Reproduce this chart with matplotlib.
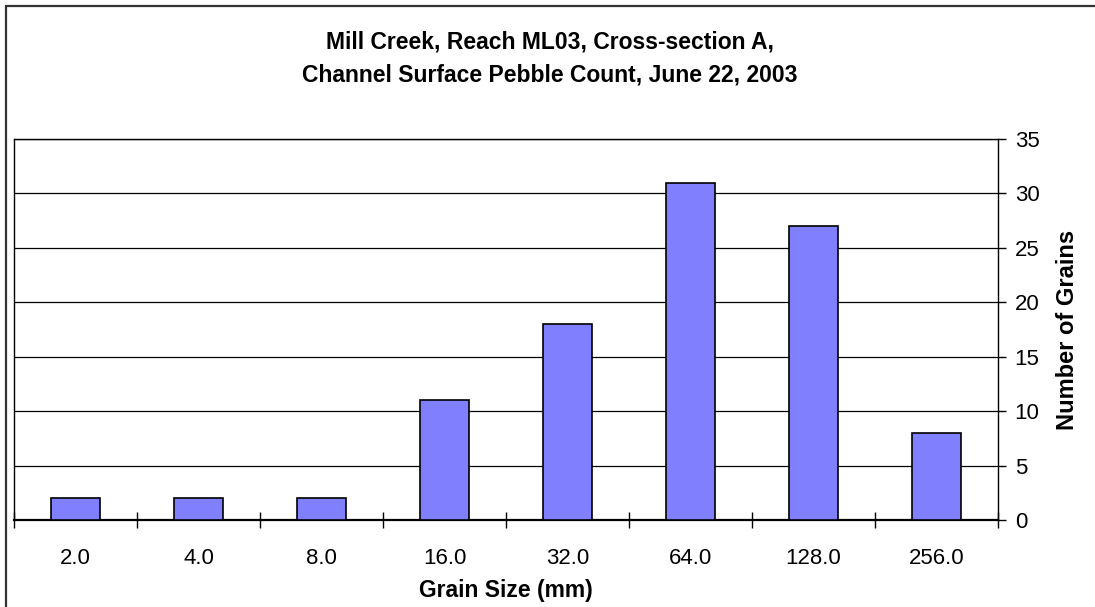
"""Pebble count histogram for Mill Creek reach ML03, cross-section A."""
import matplotlib
matplotlib.use('Agg')
import matplotlib.pyplot as plt
from matplotlib.patches import Rectangle
import numpy as np

plt.rcParams['font.family'] = ['Liberation Sans', 'DejaVu Sans']

# Grain size classes (mm) and number of grains counted in each
size_labels = ['2.0', '4.0', '8.0', '16.0', '32.0', '64.0', '128.0', '256.0']
grain_counts = [2, 2, 2, 11, 18, 31, 27, 8]
y_ticks = [0, 5, 10, 15, 20, 25, 30, 35]

W, H = 1095, 607
fig = plt.figure(figsize=(W / 100, H / 100), dpi=100)

# chart area border (runs off the right and bottom edges)
fig.patches.append(Rectangle((6 / W, -0.1), 1.2, (H - 6) / H + 0.1,
                             transform=fig.transFigure, fill=False,
                             edgecolor='#333333', linewidth=1.6))

ax = fig.add_axes([14 / W, (H - 520) / H, (998 - 14) / W, (520 - 139) / H])

x = np.arange(len(size_labels))
ax.bar(x, grain_counts, width=0.4, color='#8080FF', edgecolor='black',
       linewidth=1.2, zorder=3)

ax.set_xlim(-0.5, len(size_labels) - 0.5)
ax.set_ylim(0, 35)

# value axis on the right, gridlines at every major tick
ax.yaxis.tick_right()
ax.yaxis.set_label_position('right')
ax.set_yticks(y_ticks)
ax.tick_params(axis='y', direction='out', length=6, width=1, pad=6,
               labelsize=16, colors='black')
ax.grid(axis='y', color='black', linewidth=0.9, zorder=1)

# category labels centred, tick marks between categories
ax.set_xticks(x)
ax.set_xticklabels(size_labels)
ax.tick_params(axis='x', which='major', length=0, pad=20, labelsize=16)
ax.set_xticks(np.arange(-0.5, len(size_labels)), minor=True)
ax.tick_params(axis='x', which='minor', direction='inout', length=12,
               width=1, color='black')

for side in ['top', 'left', 'right']:
    ax.spines[side].set_linewidth(1.0)
ax.spines['bottom'].set_linewidth(1.6)

ax.set_xlabel('Grain Size (mm)', fontsize=16.5, fontweight='bold', labelpad=7)
ax.set_ylabel('Number of Grains', fontsize=17, fontweight='bold', labelpad=12)

fig.text(550 / W, 1 - 42 / H, 'Mill Creek, Reach ML03, Cross-section A,',
         ha='center', va='center', fontsize=16.5, fontweight='bold')
fig.text(550 / W, 1 - 75 / H, 'Channel Surface Pebble Count, June 22, 2003',
         ha='center', va='center', fontsize=16.5, fontweight='bold')

fig.savefig('out.png', dpi=100)
